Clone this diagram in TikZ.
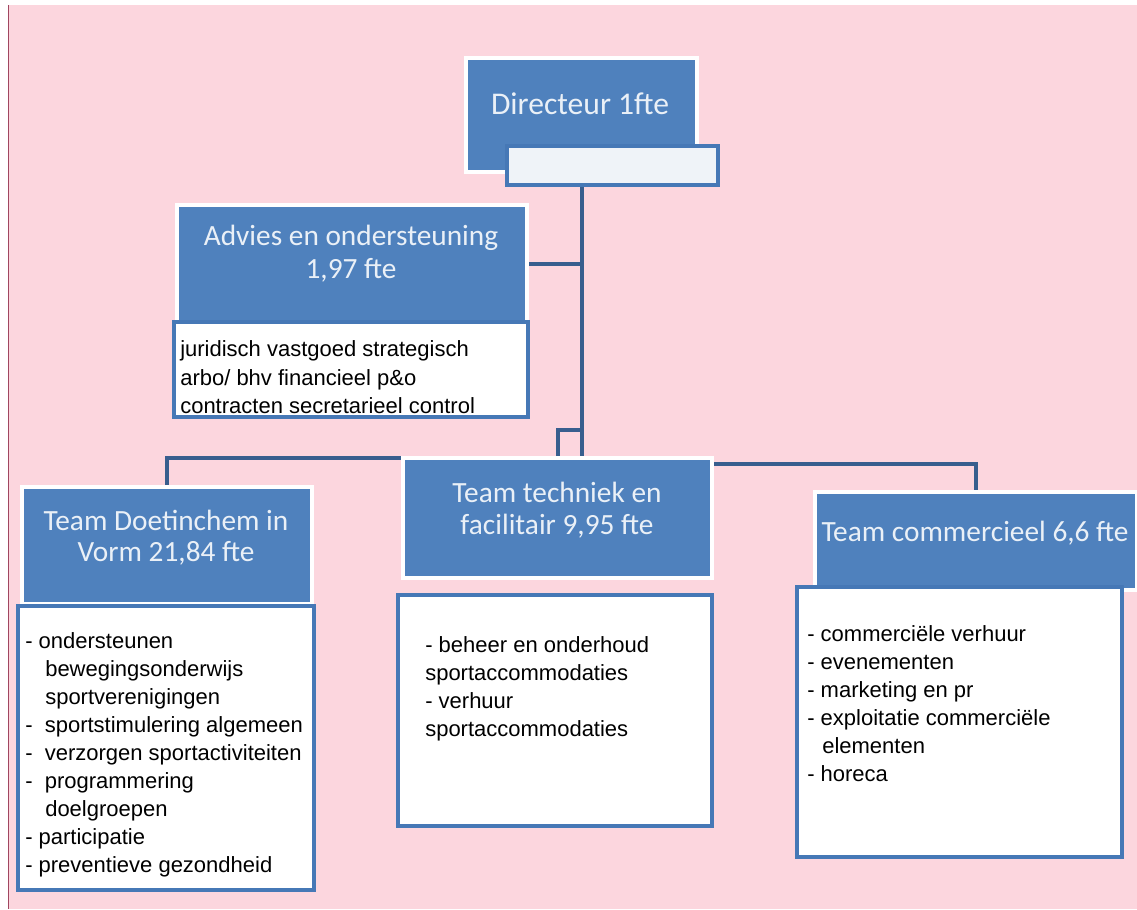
\documentclass[tikz,border=0pt]{standalone}
\usepackage{fontspec}
\setmainfont{Liberation Sans}
\newfontfamily\titlefamily{Carlito}
\pgfdeclarelayer{bg}
\pgfsetlayers{bg,main}
\definecolor{bgpink}{RGB}{252,214,222}
\definecolor{boxblue}{RGB}{79,129,189}
\definecolor{edgeblue}{RGB}{70,120,182}
\definecolor{lineblue}{RGB}{56,94,142}
\definecolor{titletxt}{RGB}{234,240,247}
\definecolor{subfill}{RGB}{239,243,248}
\definecolor{leftline}{RGB}{160,70,95}
\begin{document}
\begin{tikzpicture}[x=0.75pt,y=-0.75pt,
  sz/.style 2 args={minimum width=#1*0.75pt, minimum height=#2*0.75pt},
  bluebox/.style={rectangle, fill=boxblue, draw=white, line width=2.6pt, inner sep=0pt, outer sep=0pt},
  listbox/.style={rectangle, fill=white, draw=edgeblue, line width=3pt, inner sep=0pt, outer sep=0pt},
  subbox/.style={rectangle, fill=subfill, draw=edgeblue, line width=2.6pt, inner sep=0pt, outer sep=0pt},
  conn/.style={draw=lineblue, line width=3pt},
  tt/.style={anchor=base, inner sep=0pt, text=titletxt, font=\titlefamily\fontsize{22}{26}\selectfont},
  lt/.style={anchor=base west, inner sep=0pt, text=black, font=\fontsize{16.5}{21}\selectfont}]
\useasboundingbox (0,0) rectangle (1137,909);
\begin{pgfonlayer}{bg}
  \fill[bgpink] (8,5) rectangle (1137,909);
  \draw[leftline, line width=1.4pt] (8.5,5) -- (8.5,909);
\end{pgfonlayer}

% boxes
\node[bluebox, sz={231}{114}] (dir) at (581.5,115) {};
\node[subbox, sz={211}{39}] (dirsub) at (612.5,165.5) {};
\node[bluebox, sz={350}{117}] (adv) at (352,263.5) {};
\node[listbox, sz={354}{95}] (advlist) at (351,369.5) {};
\node[bluebox, sz={290}{117}] (doe) at (167,545.5) {};
\node[listbox, sz={296}{284}] (doelist) at (166,748) {};
\node[bluebox, sz={309}{120}] (tec) at (557.5,518) {};
\node[listbox, sz={314}{231}] (teclist) at (555,710.5) {};
\node[bluebox, sz={322}{98}] (com) at (976,541) {};
\node[listbox, sz={325}{270}] (comlist) at (959.5,722) {};

% titles
\node[tt, font=\titlefamily\fontsize{23.7}{28}\selectfont] (dirt) at (580,115) {Directeur 1fte};
\node[tt] (advt1) at (351,245) {Advies en ondersteuning};
\node[tt] (advt2) at (351,278) {1,97 fte};
\node[tt] (doet1) at (166,530) {Team Doetinchem in};
\node[tt] (doet2) at (166,561) {Vorm 21,84 fte};
\node[tt] (tect1) at (557,502) {Team techniek en};
\node[tt] (tect2) at (557,534) {facilitair 9,95 fte};
\node[tt] (comt) at (975,541) {Team commercieel 6,6 fte};

% list texts
\node[lt] (a1) at (180,356) {juridisch vastgoed strategisch};
\node[lt] (a2) at (180,385) {arbo/ bhv financieel p\&o};
\node[lt] (a3) at (180,413) {contracten secretarieel control};

\node[lt] (d1) at (25,648) {- ondersteunen};
\node[lt] (d2) at (45,676) {bewegingsonderwijs};
\node[lt] (d3) at (45,704) {sportverenigingen};
\node[lt] (d4) at (25,732) {-\ \ sportstimulering algemeen};
\node[lt] (d5) at (25,760) {-\ \ verzorgen sportactiviteiten};
\node[lt] (d6) at (25,788) {-\ \ programmering};
\node[lt] (d7) at (45,816) {doelgroepen};
\node[lt] (d8) at (25,844) {- participatie};
\node[lt] (d9) at (25,872) {- preventieve gezondheid};

\node[lt] (t1) at (425,652) {- beheer en onderhoud};
\node[lt] (t2) at (425,680) {sportaccommodaties};
\node[lt] (t3) at (425,708) {- verhuur};
\node[lt] (t4) at (425,736) {sportaccommodaties};

\node[lt] (c1) at (807,641) {- commerciële verhuur};
\node[lt] (c2) at (807,669) {- evenementen};
\node[lt] (c3) at (807,697) {- marketing en pr};
\node[lt] (c4) at (807,725) {- exploitatie commerciële};
\node[lt] (c5) at (822,753) {elementen};
\node[lt] (c6) at (807,781) {- horeca};

% connectors
\coordinate (jn) at (581.5,430);
\begin{pgfonlayer}{bg}
  \draw[conn] (dir.center |- dirsub.south) -- (dir.center |- tec.north);
  \draw[conn] (adv.east) -- (adv.east -| dir.center);
  \draw[conn] (tec.north) |- (jn);
  \draw[conn] (tec.north west) -| (doe.north);
  \draw[conn] ([yshift=-4.5pt]tec.north east) -| (com.north);
\end{pgfonlayer}
\end{tikzpicture}
\end{document}
